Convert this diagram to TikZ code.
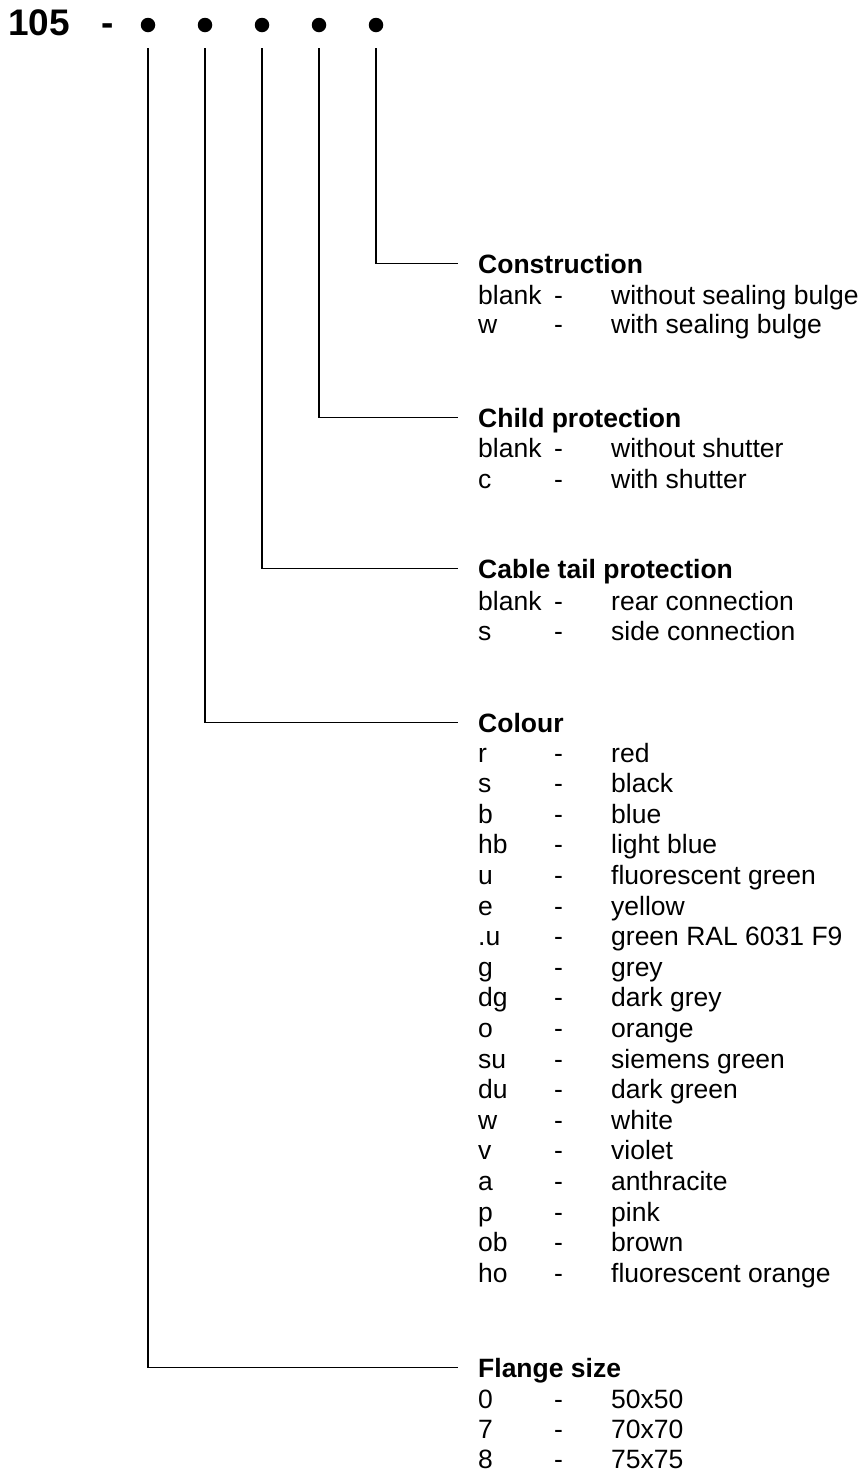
\documentclass[tikz,border=0pt]{standalone}
\usepackage{fontspec}
\setmainfont{Liberation Sans}
\usepackage{tikz}
\usetikzlibrary{positioning}

\begin{document}
\begin{tikzpicture}[
  x=1pt, y=-1pt,
  font=\fontsize{26.5}{31}\selectfont,
  code/.style={font=\fontsize{37}{40}\selectfont\bfseries, anchor=base west, inner sep=0pt},
  dot/.style={circle, fill=black, inner sep=0pt, minimum size=14.5pt},
  hd/.style={font=\fontsize{26.5}{31}\selectfont\bfseries, anchor=base west,
    inner sep=0pt, text height=19pt, text depth=0pt},
  keyn/.style={anchor=base west, inner sep=0pt},
  ln/.style={line width=1.7pt, shorten <=16pt, shorten >=20pt}
]
  \useasboundingbox (0,0) rectangle (863,1473);

  % order code
  \node[code] (num) at (8,35) {105};
  \node[code] (sep) at (101,35) {-};
  \node[dot] (d1) at (148,25) {};
  \node[dot] (d2) at (205,25) {};
  \node[dot] (d3) at (262,25) {};
  \node[dot] (d4) at (319,25) {};
  \node[dot] (d5) at (376,25) {};

  % Construction
  \node[hd] (hcon) at (478,273) {Construction};
  \node[keyn] (con1k) at (478,304) {blank};
  \node[keyn] (con1d) at (554,304) {-};
  \node[keyn] (con1v) at (611,304) {without sealing bulge};
  \node[keyn] (con2k) at (478,333) {w};
  \node[keyn] (con2d) at (554,333) {-};
  \node[keyn] (con2v) at (611,333) {with sealing bulge};

  % Child protection
  \node[hd] (hchi) at (478,427) {Child protection};
  \node[keyn] (chi1k) at (478,457) {blank};
  \node[keyn] (chi1d) at (554,457) {-};
  \node[keyn] (chi1v) at (611,457) {without shutter};
  \node[keyn] (chi2k) at (478,488) {c};
  \node[keyn] (chi2d) at (554,488) {-};
  \node[keyn] (chi2v) at (611,488) {with shutter};

  % Cable tail protection
  \node[hd] (hcab) at (478,578) {Cable tail protection};
  \node[keyn] (cab1k) at (478,610) {blank};
  \node[keyn] (cab1d) at (554,610) {-};
  \node[keyn] (cab1v) at (611,610) {rear connection};
  \node[keyn] (cab2k) at (478,640) {s};
  \node[keyn] (cab2d) at (554,640) {-};
  \node[keyn] (cab2v) at (611,640) {side connection};

  % Colour
  \node[hd] (hcol) at (478,732) {Colour};
  \foreach \k/\v [count=\i from 0] in {r/red, s/black, b/blue, hb/light blue,
      u/fluorescent green, e/yellow, .u/green RAL 6031 F9, g/grey, dg/dark grey,
      o/orange, su/siemens green, du/dark green, w/white, v/violet,
      a/anthracite, p/pink, ob/brown, ho/fluorescent orange} {
    \node[keyn] (col\i k) at (478,{762+30.6*\i}) {\k};
    \node[keyn] (col\i d) at (554,{762+30.6*\i}) {-};
    \node[keyn] (col\i v) at (611,{762+30.6*\i}) {\v};
  }

  % Flange size
  \node[hd] (hfla) at (478,1377) {Flange size};
  \node[keyn] (fla1k) at (478,1408) {0};
  \node[keyn] (fla1d) at (554,1408) {-};
  \node[keyn] (fla1v) at (611,1408) {50x50};
  \node[keyn] (fla2k) at (478,1438) {7};
  \node[keyn] (fla2d) at (554,1438) {-};
  \node[keyn] (fla2v) at (611,1438) {70x70};
  \node[keyn] (fla3k) at (478,1468) {8};
  \node[keyn] (fla3d) at (554,1468) {-};
  \node[keyn] (fla3v) at (611,1468) {75x75};

  \draw[ln] (d5) |- (hcon.west);
  \draw[ln] (d4) |- (hchi.west);
  \draw[ln] (d3) |- (hcab.west);
  \draw[ln] (d2) |- (hcol.west);
  \draw[ln] (d1) |- (hfla.west);
\end{tikzpicture}
\end{document}
